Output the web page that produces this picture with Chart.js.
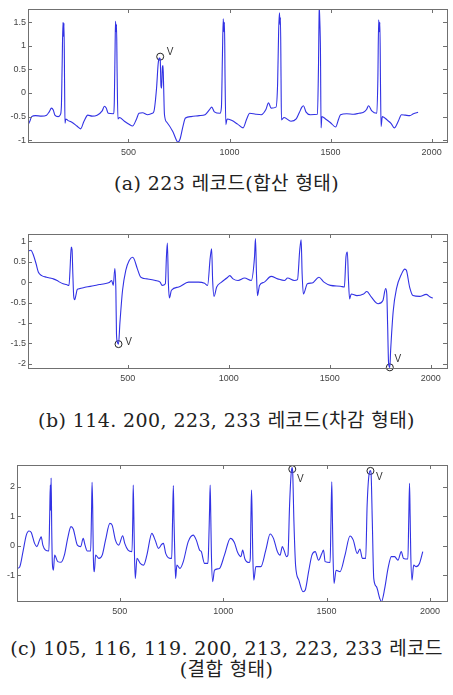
<!DOCTYPE html>
<html>
<head>
<meta charset="utf-8">
<script src="https://cdn.jsdelivr.net/npm/chart.js@4.4.1/dist/chart.umd.min.js"></script>
<style>
  body { margin: 0; background: #fff; width: 453px; height: 695px; position: relative; overflow: hidden; }
  .panel { position: absolute; left: 0; width: 453px; }
  .caption { position: absolute; left: 0; width: 453px; text-align: center; white-space: nowrap; letter-spacing: 0.4px;
             font-family: "DejaVu Serif", "Noto Sans CJK KR", serif; font-size: 19px; line-height: 22px; color: #222; }
</style>
</head>
<body>
<div class="panel" style="top:0px;height:160px"><canvas id="chart-a" width="453" height="160"></canvas></div>
<div class="caption" style="top:172px">(a) 223 레코드(합산 형태)</div>
<div class="panel" style="top:225px;height:160px"><canvas id="chart-b" width="453" height="160"></canvas></div>
<div class="caption" style="top:409px">(b) 114. 200, 223, 233 레코드(차감 형태)</div>
<div class="panel" style="top:455px;height:165px"><canvas id="chart-c" width="453" height="165"></canvas></div>
<div class="caption" style="top:637px">(c) 105, 116, 119. 200, 213, 223, 233 레코드</div>
<div class="caption" style="top:658px">(결합 형태)</div>
<script>
// (a) 223 record
const ecgAx = [3,12,21,40,70,95,108,119,128,136,152,163,168,172,176,179,181,184,186,190,200,220,245,263,280,299,320,345,370,381,390,400,425,430,434,436,439,441,444,448,455,480,505,520,540,552,570,595,618,626,639,647,652,657,661,664,668,671,674,678,690,720,745,755,770,782,810,850,879,900,912,925,953,960,965,969,972,975,978,982,988,1010,1040,1067,1085,1100,1130,1157,1180,1193,1206,1230,1238,1243,1247,1250,1252,1255,1257,1270,1304,1330,1345,1358,1366,1378,1400,1435,1440,1444,1447,1450,1453,1457,1475,1500,1525,1540,1549,1580,1614,1640,1663,1678,1688,1704,1729,1734,1738,1741,1744,1747,1750,1756,1782,1800,1815,1835,1851,1870,1892,1910,1933];
const ecgAy = [-0.68,-0.6,-0.5,-0.48,-0.49,-0.47,-0.4,-0.32,-0.36,-0.47,-0.5,-0.46,-0.3,0.6,1.5,1.2,1.48,0.2,-0.64,-0.55,-0.58,-0.62,-0.7,-0.76,-0.6,-0.47,-0.49,-0.47,-0.38,-0.28,-0.32,-0.43,-0.44,-0.2,1.0,1.52,1.3,1.45,0.4,-0.55,-0.52,-0.6,-0.67,-0.7,-0.55,-0.43,-0.42,-0.46,-0.43,-0.39,0.1,0.62,0.74,0.72,0.15,0.1,0.55,0.58,0.15,-0.45,-0.62,-0.82,-1.04,-0.98,-0.7,-0.53,-0.5,-0.48,-0.46,-0.36,-0.3,-0.4,-0.43,-0.3,0.8,1.57,1.3,1.5,0.3,-0.67,-0.55,-0.58,-0.66,-0.74,-0.55,-0.43,-0.45,-0.46,-0.35,-0.21,-0.32,-0.3,0.2,1.3,1.7,1.45,1.6,0.3,-0.57,-0.52,-0.6,-0.55,-0.42,-0.3,-0.27,-0.4,-0.46,-0.45,0.5,1.79,1.5,0.9,-0.74,-0.5,-0.55,-0.63,-0.72,-0.55,-0.46,-0.44,-0.45,-0.43,-0.41,-0.35,-0.27,-0.38,-0.43,0.3,1.55,1.3,1.5,0.2,-0.71,-0.5,-0.58,-0.65,-0.74,-0.6,-0.46,-0.47,-0.48,-0.44,-0.41];
const vAx = [657];
const vAy = [0.77];
const yTicksA = [-1, -0.5, 0, 0.5, 1, 1.5];

// (b) 114, 200, 223, 233 records
const ecgBx = [6,20,33,46,57,74,98,115,131,150,163,180,196,209,214,220,224,228,232,237,242,250,261,294,330,359,385,408,420,428,436,441,444,449,454,461,474,490,507,523,531,547,564,580,596,637,660,670,686,691,696,701,706,716,752,801,850,880,895,908,915,920,927,940,964,990,1005,1021,1046,1078,1111,1127,1132,1137,1142,1152,1176,1209,1242,1275,1291,1324,1340,1351,1358,1363,1369,1389,1413,1446,1471,1503,1552,1572,1580,1587,1592,1598,1606,1634,1667,1683,1706,1739,1763,1776,1782,1786,1791,1797,1801,1814,1830,1855,1871,1879,1895,1912,1944,1977,1995,2010];
const ecgBy = [0.76,0.78,0.66,0.45,0.25,0.16,0.12,0.1,0.08,0.04,0.0,-0.04,-0.06,-0.08,0.3,0.86,0.8,0.2,-0.33,-0.43,-0.35,-0.18,-0.16,-0.12,-0.09,-0.06,-0.04,-0.01,0.04,-0.08,0.33,-0.2,-1.27,-1.48,-1.52,-1.0,-0.2,0.29,0.53,0.61,0.57,0.33,0.12,0.09,0.08,0.04,0.0,-0.08,-0.04,0.6,0.96,-0.04,-0.39,-0.2,-0.12,0.0,0.0,-0.03,-0.08,0.6,0.82,0.04,-0.35,-0.12,0.0,0.1,0.16,0.08,0.04,0.1,0.04,0.6,1.07,0.2,-0.33,-0.08,0.0,0.14,0.08,0.04,0.1,0.04,0.06,0.78,1.04,0.2,-0.29,-0.04,-0.02,0.12,0.0,-0.08,-0.1,-0.12,0.62,0.74,0.08,-0.41,-0.29,-0.33,-0.29,-0.23,-0.37,-0.53,-0.45,-0.16,-0.29,-1.02,-2.0,-2.09,-1.68,-0.7,-0.16,0.2,0.32,0.29,-0.12,-0.33,-0.35,-0.3,-0.36,-0.39];
const vBx = [454, 1797];
const vBy = [-1.52, -2.09];
const yTicksB = [-2, -1.5, -1, -0.5, 0, 0.5, 1];

// (c) 105, 116, 119, 200, 213, 223, 233 records
const ecgCx = [3,16,32,48,61,72,88,99,112,120,128,141,157,161,164,166,168,171,174,179,185,200,216,232,248,264,275,295,311,323,332,343,359,363,366,369,372,377,383,399,415,431,452,463,479,495,514,524,540,559,563,565,568,571,575,583,599,615,631,655,671,687,703,711,722,743,751,755,759,762,766,770,776,791,807,831,855,870,886,894,910,926,929,934,937,940,943,949,958,982,1006,1035,1054,1070,1086,1094,1105,1126,1131,1134,1137,1140,1143,1148,1158,1182,1206,1227,1243,1262,1275,1286,1294,1306,1313,1321,1328,1333,1336,1342,1350,1366,1386,1397,1413,1429,1445,1461,1477,1485,1493,1517,1521,1525,1528,1531,1536,1546,1565,1589,1613,1629,1648,1661,1673,1689,1696,1706,1712,1715,1721,1728,1741,1757,1765,1781,1797,1813,1829,1845,1861,1872,1893,1897,1901,1904,1907,1913,1921,1933,1949,1965];
const ecgCy = [-0.77,-0.72,-0.2,0.36,0.5,0.45,0.08,-0.03,0.19,0.3,0.02,-0.15,-0.18,1.0,2.06,1.2,2.3,0.5,-0.6,-0.83,-0.32,-0.54,-0.56,-0.32,0.25,0.65,0.57,0.02,-0.03,0.25,0.02,-0.18,-0.18,1.0,2.15,1.3,-0.32,-0.88,-0.32,-0.43,-0.32,0.19,0.76,0.7,0.19,0.02,0.34,0.08,-0.15,-0.2,1.0,2.06,1.0,-0.3,-1.11,-0.43,-0.6,-0.66,-0.32,0.42,0.19,-0.09,0.05,0.08,-0.26,-0.43,-0.43,0.8,2.04,0.9,-0.3,-1.11,-0.66,-0.77,-0.54,0.14,0.36,0.19,-0.15,-0.2,-0.6,-0.6,-0.2,1.2,2.06,1.0,-0.3,-1.22,-0.83,-0.77,-0.32,0.25,0.11,-0.23,-0.37,-0.15,-0.45,-0.57,-0.43,0.9,1.89,1.0,-0.3,-1.17,-0.71,-0.71,-0.15,0.4,0.25,-0.2,-0.32,-0.03,-0.15,-0.37,-0.32,1.38,2.4,2.65,2.5,0.82,-0.66,-1.17,-1.56,-1.5,-0.88,-0.32,-0.2,-0.49,-0.26,-0.15,-0.54,-0.57,0.8,2.17,1.0,-0.3,-1.28,-0.83,-0.88,-0.32,0.33,0.19,-0.26,-0.11,-0.43,-0.43,1.38,2.46,2.55,2.46,0.82,-1.11,-1.39,-1.79,-1.9,-1.45,-0.77,-0.37,-0.37,-0.49,-0.2,-0.43,-0.45,0.8,2.12,1.0,-0.3,-1.17,-0.66,-0.71,-0.6,-0.2];
const vCx = [1334, 1712];
const vCy = [2.6, 2.54];
const yTicksC = [-1, 0, 1, 2];

const xTicks = [500, 1000, 1500, 2000];

const boxPlugin = {
    id: 'matlabBox',
    afterDatasetsDraw(chart, args, opts) {
        const ctx = chart.ctx;
        const a = chart.chartArea;
        const xs = chart.scales.x;
        const ys = chart.scales.y;
        ctx.save();
        ctx.strokeStyle = '#707070';
        ctx.lineWidth = 1;
        ctx.strokeRect(a.left + 0.5, a.top + 0.5, a.right - a.left - 1, a.bottom - a.top - 1);
        ctx.beginPath();
        xs.ticks.forEach(t => {
            const px = Math.round(xs.getPixelForValue(t.value)) + 0.5;
            ctx.moveTo(px, a.top); ctx.lineTo(px, a.top + 4);
            ctx.moveTo(px, a.bottom); ctx.lineTo(px, a.bottom - 4);
        });
        ys.ticks.forEach(t => {
            const py = Math.round(ys.getPixelForValue(t.value)) + 0.5;
            ctx.moveTo(a.left, py); ctx.lineTo(a.left + 4, py);
            ctx.moveTo(a.right, py); ctx.lineTo(a.right - 5, py);
        });
        ctx.stroke();

        // "V" labels next to the marked beats
        ctx.fillStyle = '#333';
        ctx.font = '10px "Liberation Sans", Arial, sans-serif';
        ctx.textAlign = 'center';
        ctx.textBaseline = 'middle';
        chart.getDatasetMeta(1).data.forEach((pt, i) => {
            const off = opts.offsets[i];
            ctx.fillText('V', pt.x + off[0], pt.y + off[1]);
        });
        ctx.restore();
    }
};

function toPoints(xs, ys) {
    return xs.map((x, i) => ({ x: x, y: ys[i] }));
}

function makeChart(id, cfg) {
    const ctx = document.getElementById(id).getContext('2d');
    const canvasH = ctx.canvas.height;
    return new Chart(ctx, {
        type: 'line',
        data: {
            datasets: [{
                data: toPoints(cfg.x, cfg.y),
                borderColor: 'rgb(50,50,228)',
                borderWidth: 1.1,
                pointRadius: 0,
                cubicInterpolationMode: 'monotone',
                fill: false
            }, {
                data: toPoints(cfg.vx, cfg.vy),
                showLine: false,
                pointRadius: 3.5,
                pointBorderWidth: 1,
                pointBorderColor: '#222',
                pointBackgroundColor: 'rgba(0,0,0,0)',
                clip: false
            }]
        },
        options: {
            responsive: false,
            animation: false,
            devicePixelRatio: 1,
            layout: { padding: { top: cfg.top, right: 1, left: 0, bottom: 0 } },
            plugins: {
                legend: { display: false },
                tooltip: { enabled: false },
                matlabBox: { offsets: cfg.offsets }
            },
            scales: {
                x: {
                    type: 'linear',
                    min: cfg.xMin,
                    max: cfg.xMax,
                    grid: { display: false, drawTicks: false },
                    border: { display: false },
                    afterBuildTicks: s => { s.ticks = xTicks.map(v => ({ value: v })); },
                    afterFit: s => { s.height = canvasH - cfg.bottom; },
                    ticks: {
                        autoSkip: false,
                        maxRotation: 0,
                        padding: 4,
                        color: '#444',
                        font: { family: '"Liberation Sans", Arial, sans-serif', size: 9 },
                        callback: v => String(v)
                    }
                },
                y: {
                    min: cfg.yMin,
                    max: cfg.yMax,
                    grid: { display: false, drawTicks: false },
                    border: { display: false },
                    afterBuildTicks: s => { s.ticks = cfg.yTicks.map(v => ({ value: v })); },
                    afterFit: s => { s.width = cfg.left; },
                    ticks: {
                        autoSkip: false,
                        padding: 2,
                        color: '#444',
                        font: { family: '"Liberation Sans", Arial, sans-serif', size: 9 },
                        callback: v => String(v)
                    }
                }
            }
        },
        plugins: [boxPlugin]
    });
}

makeChart('chart-a', {
    x: ecgAx, y: ecgAy, vx: vAx, vy: vAy, yTicks: yTicksA,
    xMin: 3, xMax: 2081, yMin: -1.06, yMax: 1.78,
    top: 9, bottom: 143, left: 28,
    offsets: [[10, -4]]
});

makeChart('chart-b', {
    x: ecgBx, y: ecgBy, vx: vBx, vy: vBy, yTicks: yTicksB,
    xMin: 6, xMax: 2085, yMin: -2.13, yMax: 1.18,
    top: 9, bottom: 144, left: 28,
    offsets: [[10, -2], [8, -8]]
});

makeChart('chart-c', {
    x: ecgCx, y: ecgCy, vx: vCx, vy: vCy, yTicks: yTicksC,
    xMin: 3, xMax: 2087, yMin: -1.91, yMax: 2.74,
    top: 10, bottom: 147, left: 17,
    offsets: [[8, 10], [9, 6]]
});
</script>
</body>
</html>
